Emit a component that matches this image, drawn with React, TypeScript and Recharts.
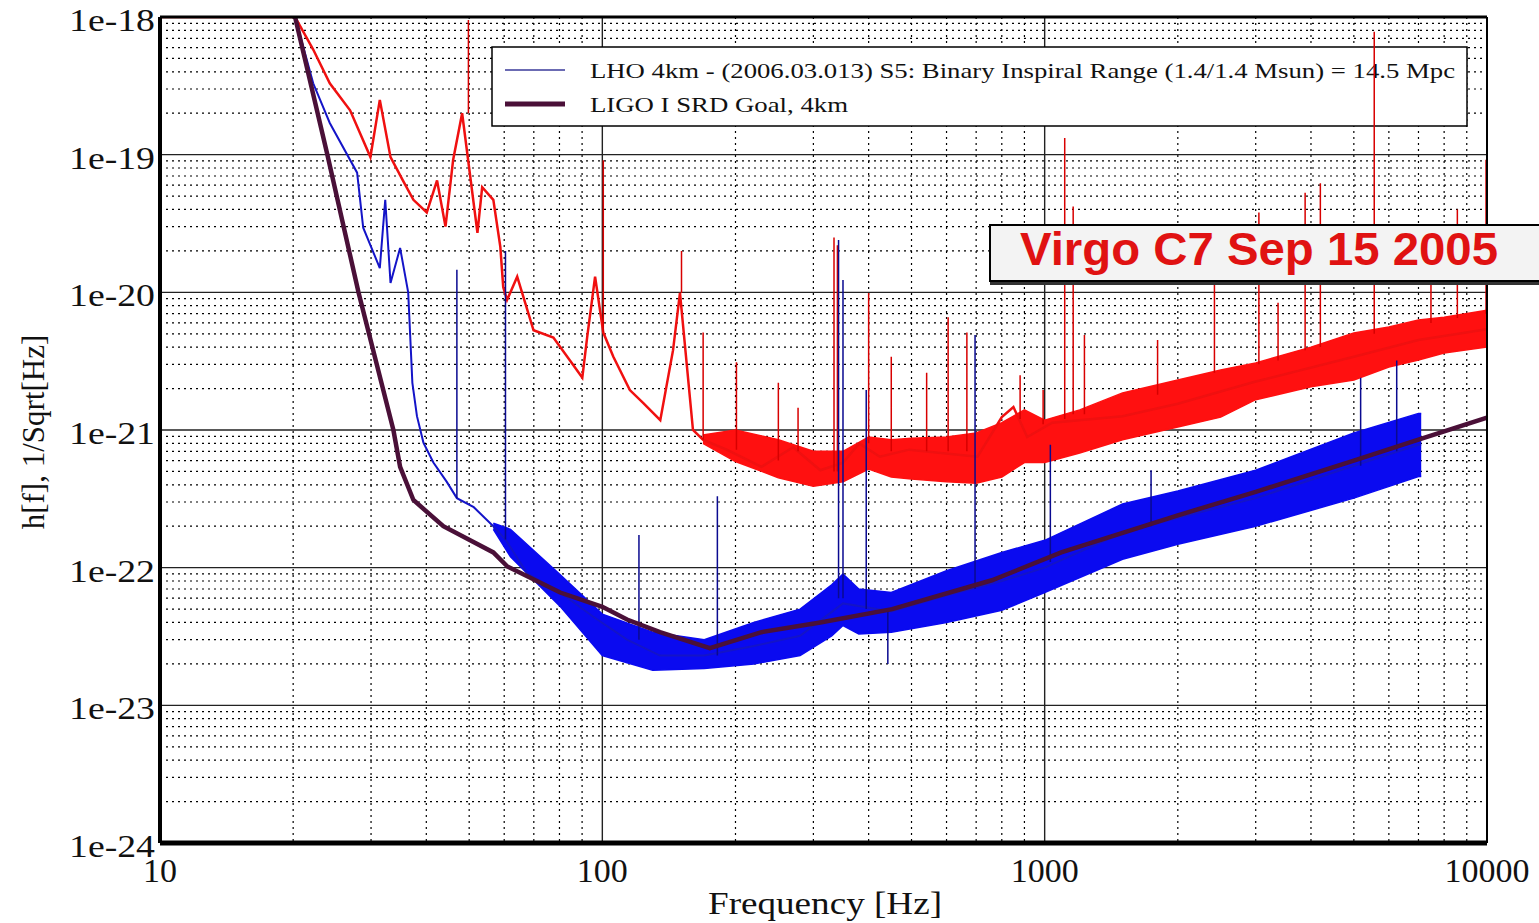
import { ComposedChart, Line, Area, XAxis, YAxis, ReferenceLine, CartesianGrid } from 'recharts';

const xTicks = [10, 100, 1000, 10000];
const xTickLabels = ['10', '100', '1000', '10000'];
const yTicks = [1e-24, 1e-23, 1e-22, 1e-21, 1e-20, 1e-19, 1e-18];
const yTickLabels = ['1e-24', '1e-23', '1e-22', '1e-21', '1e-20', '1e-19', '1e-18'];

// LIGO I SRD goal (smooth curve)
const srdFreq = [20.2, 23.9, 28.1, 33.7, 34.9, 37.4, 43.7, 56.7, 61, 80.3, 100, 113.7, 135, 175, 229, 311, 452, 760, 1090, 2000, 3000, 5000, 7000, 10000];
const srdH = [1e-18, 1e-19, 1e-20, 1e-21, 5.4e-22, 3.1e-22, 2.0e-22, 1.29e-22, 1.02e-22, 6.6e-23, 5.2e-23, 4.2e-23, 3.4e-23, 2.6e-23, 3.4e-23, 4.0e-23, 5.0e-23, 8.1e-23, 1.29e-22, 2.4e-22, 3.55e-22, 6.0e-22, 8.5e-22, 1.23e-21];

// Virgo C7 trace, noise band and lines
const redFreq = [10, 20.2, 22.2, 24.2, 26.9, 29.9, 31.4, 33.2, 35.4, 37.4, 40.1, 42.3, 44.2, 46.0, 48.2, 52.2, 53.5, 56.7, 58.8, 59.7, 60.9, 64.2, 69.9, 77.5, 84.5, 90.1, 92.4, 96.3, 100.5, 105.9, 115.4, 123.8, 135.2, 144.5, 149.8, 160.3, 168.8, 191, 229, 270, 311, 350, 381, 424, 494, 705, 800, 850, 913, 1040, 1500, 2000, 3000, 5000, 7000, 10000];
const redH = [1e-18, 1e-18, 5.8e-19, 3.3e-19, 2.1e-19, 9.6e-20, 2.5e-19, 9.6e-20, 6.5e-20, 4.7e-20, 3.8e-20, 6.5e-20, 3.0e-20, 9.2e-20, 2.0e-19, 2.7e-20, 5.8e-20, 4.7e-20, 2.14e-20, 1.09e-20, 8.8e-21, 1.3e-20, 5.3e-21, 4.7e-21, 3.2e-21, 2.4e-21, 4.7e-21, 1.3e-20, 5.1e-21, 3.4e-21, 1.95e-21, 1.57e-21, 1.18e-21, 3.8e-21, 9.9e-21, 1.0e-21, 8.5e-22, 7.2e-22, 5.4e-22, 7.5e-22, 5.1e-22, 5.8e-22, 8.0e-22, 6.4e-22, 7.2e-22, 6.4e-22, 1.24e-21, 1.47e-21, 8.9e-22, 1.13e-21, 1.26e-21, 1.55e-21, 2.25e-21, 3.4e-21, 4.5e-21, 5.4e-21];
const redBandFreq = [168.8, 200, 250, 300, 350, 400, 450, 500, 600, 700, 800, 900, 1000, 1200, 1500, 2000, 2500, 3000, 4000, 5000, 6000, 7000, 8000, 10000];
const redBandLo = [8.0e-22, 5.9e-22, 4.5e-22, 3.9e-22, 4.2e-22, 5.2e-22, 4.55e-22, 4.4e-22, 4.2e-22, 4.1e-22, 4.55e-22, 5.8e-22, 5.8e-22, 6.8e-22, 8.5e-22, 1.05e-21, 1.24e-21, 1.66e-21, 2.06e-21, 2.31e-21, 2.87e-21, 3.23e-21, 3.63e-21, 4.0e-21];
const redBandHi = [9.2e-22, 1.0e-21, 8.5e-22, 7.0e-22, 7.0e-22, 8.9e-22, 8.5e-22, 8.7e-22, 8.9e-22, 9.5e-22, 1.13e-21, 1.4e-21, 1.18e-21, 1.4e-21, 1.86e-21, 2.31e-21, 2.73e-21, 3.07e-21, 4.0e-21, 5.07e-21, 5.6e-21, 6.3e-21, 6.6e-21, 7.4e-21];
// [frequency, base, peak]
const redLines = [
  [49.8, 2.0e-19, 9.5e-19], [100.5, 5.1e-21, 9.1e-20], [151, 9.9e-21, 2.0e-20], [169, 8.5e-22, 5.1e-21],
  [201, 7.2e-22, 3.1e-21], [250, 6e-22, 2.2e-21], [277, 7e-22, 1.45e-21], [334, 5e-22, 2.5e-20],
  [340, 5e-22, 2.2e-20], [400, 8e-22, 9.9e-21], [450, 7e-22, 3.4e-21], [541, 7e-22, 2.6e-21],
  [605, 7e-22, 6.6e-21], [667, 7e-22, 5.1e-21], [880, 1.2e-21, 2.5e-21], [992, 1.1e-21, 1.95e-21],
  [1110, 1.2e-21, 1.32e-19], [1160, 1.3e-21, 4.2e-20], [1230, 1.3e-21, 4.9e-21], [1800, 1.8e-21, 4.5e-21],
  [2420, 2.6e-21, 1.19e-20], [3050, 3e-21, 3.8e-20], [3370, 3.2e-21, 8.4e-21], [3880, 3.8e-21, 5.3e-20],
  [4200, 4e-21, 6.2e-20], [5560, 5e-21, 7.8e-19], [7470, 6e-21, 1.19e-20], [8570, 6.5e-21, 4.0e-20],
  [9950, 7e-21, 9.2e-20],
];

// LHO 4km S5 trace, noise band and lines
const blueFreq = [20.2, 22.2, 24.2, 27.9, 28.8, 31.4, 32.3, 33.2, 34.9, 36.4, 37.2, 38.1, 39.4, 41.5, 44.5, 46.9, 51.2, 56.7, 60.4, 67.6, 80.3, 95.4, 113.7, 135, 170, 220, 280, 350, 450, 600, 800, 1000, 1500, 2000, 3000, 5000, 7000, 7100];
const blueH = [1e-18, 3.3e-19, 1.7e-19, 7.4e-20, 2.95e-20, 1.5e-20, 4.7e-20, 1.17e-20, 2.1e-20, 1.0e-20, 2.2e-21, 1.26e-21, 8.1e-22, 5.8e-22, 4.2e-22, 3.2e-22, 2.75e-22, 2.0e-22, 1.6e-22, 9.1e-23, 6.6e-23, 4.4e-23, 3.0e-23, 2.3e-23, 2.3e-23, 2.7e-23, 3.2e-23, 5.5e-23, 4.8e-23, 6.3e-23, 8.0e-23, 1.0e-22, 1.8e-22, 2.3e-22, 3.2e-22, 5.5e-22, 7.8e-22, 7.8e-22];
const blueBandFreq = [56.7, 62, 80, 100, 130, 170, 220, 280, 330, 350, 380, 450, 600, 800, 1000, 1500, 2000, 3000, 5000, 7000, 7100];
const blueBandLo = [1.9e-22, 1.2e-22, 5.3e-23, 2.3e-23, 1.8e-23, 1.85e-23, 2.0e-23, 2.3e-23, 3.2e-23, 3.8e-23, 3.3e-23, 3.4e-23, 4.0e-23, 4.9e-23, 6.6e-23, 1.15e-22, 1.48e-22, 2.0e-22, 3.2e-22, 4.6e-22, 4.6e-22];
const blueBandHi = [2.1e-22, 1.9e-22, 9.0e-23, 4.6e-23, 3.4e-23, 3.0e-23, 4.0e-23, 5.0e-23, 7.5e-23, 9.0e-23, 7.0e-23, 6.6e-23, 9.5e-23, 1.29e-22, 1.58e-22, 2.9e-22, 3.6e-22, 5.1e-22, 9.5e-22, 1.32e-21, 1.32e-21];
const blueLines = [
  [46.9, 3.2e-22, 1.46e-20], [60.4, 1.6e-22, 2.0e-20], [121, 3.0e-23, 1.73e-22], [182, 2.3e-23, 3.3e-22],
  [342, 6e-23, 2.4e-20], [350, 6e-23, 1.23e-20], [395, 5e-23, 1.95e-21], [442, 5e-23, 2.0e-23],
  [696, 7e-23, 4.9e-21], [1030, 1.1e-22, 7.8e-22], [1740, 2e-22, 5.1e-22], [5180, 5.5e-22, 2.4e-21],
  [6250, 7e-22, 3.2e-21],
];

const trace = (fs: number[], hs: number[]) => fs.map((f, i) => ({ f, h: hs[i] }));
const band = (fs: number[], lo: number[], hi: number[]) => fs.map((f, i) => ({ f, band: [lo[i], hi[i]] }));
const spikes = (rows: number[][]) =>
  rows.flatMap(([f, base, peak]) => [{ f, h: base }, { f, h: peak }, { f, h: null }]);

const srdData = trace(srdFreq, srdH);
const redData = trace(redFreq, redH);
const redBandData = band(redBandFreq, redBandLo, redBandHi);
const redSpikeData = spikes(redLines);
const blueData = trace(blueFreq, blueH);
const blueBandData = band(blueBandFreq, blueBandLo, blueBandHi);
const blueSpikeData = spikes(blueLines);

const xMinor = [10, 100, 1000].flatMap(d => [2, 3, 4, 5, 6, 7, 8, 9].map(k => k * d));
const yMinor = yTicks.slice(0, -1).flatMap(d => [2, 3, 4, 5, 6, 7, 8, 9].map(k => k * d));
const xMajor = xTicks.slice(1, -1);
const yMajor = yTicks.slice(1, -1);

const serif = '"Liberation Serif", "Times New Roman", serif';

function XTick({ x, y, index }: any) {
  return (
    <text x={x} y={y + 31} textAnchor="middle" fontFamily={serif} fontSize={34} fill="#111">
      {xTickLabels[index]}
    </text>
  );
}

function YTick({ x, y, index }: any) {
  return (
    <text x={x + 3} y={y + 14} textAnchor="end" fontFamily={serif} fontSize={31} fill="#111"
      textLength={86} lengthAdjust="spacingAndGlyphs">
      {yTickLabels[index]}
    </text>
  );
}

function LegendBox() {
  return (
    <g>
      <rect x={492} y={47} width={975} height={79} fill="#fff" stroke="#000" strokeWidth={1.5} />
      <line x1={505} x2={565} y1={70} y2={70} stroke="#3a3a9a" strokeWidth={1.5} />
      <text x={590} y={78} fontFamily={serif} fontSize={22} fill="#111" textLength={865} lengthAdjust="spacingAndGlyphs">
        LHO 4km - (2006.03.013) S5: Binary Inspiral Range (1.4/1.4 Msun) = 14.5 Mpc
      </text>
      <line x1={505} x2={565} y1={104} y2={104} stroke="#4a1038" strokeWidth={5} />
      <text x={590} y={112} fontFamily={serif} fontSize={22} fill="#111" textLength={258} lengthAdjust="spacingAndGlyphs">
        LIGO I SRD Goal, 4km
      </text>
    </g>
  );
}

export default function App() {
  return (
    <div style={{ position: 'relative', width: 1539, height: 923, background: '#fff' }}>
      <style>{`body{margin:0}`}</style>
      <ComposedChart width={1539} height={923} margin={{ top: 17, right: 52, bottom: 0, left: 0 }}>
        <XAxis type="number" dataKey="f" scale="log" domain={[10, 10000]} ticks={xTicks} allowDataOverflow interval={0}
          height={80} tickLine={false} axisLine={{ stroke: '#000', strokeWidth: 5 }} tick={<XTick />} />
        <YAxis type="number" scale="log" domain={[1e-24, 1e-18]} ticks={yTicks} allowDataOverflow interval={0}
          width={160} tickLine={false} axisLine={{ stroke: '#000', strokeWidth: 4 }} tick={<YTick />} />

        <CartesianGrid horizontal={false} verticalValues={xMinor} stroke="#000" strokeWidth={1.2} strokeDasharray="2 4" />
        <CartesianGrid vertical={false} horizontalValues={yMinor} stroke="#000" strokeWidth={1.2} strokeDasharray="2 4" />
        <CartesianGrid horizontal={false} verticalValues={xMajor} stroke="#222" strokeWidth={1.4} />
        <CartesianGrid vertical={false} horizontalValues={yMajor} stroke="#222" strokeWidth={1.4} />

        <LegendBox />

        <Area data={redBandData} dataKey="band" type="linear" stroke="#ff1010" strokeWidth={1.5} fill="#ff1010" fillOpacity={1} isAnimationActive={false} />
        <Line data={redData} dataKey="h" type="linear" stroke="#f01010" strokeWidth={2.5} dot={false} isAnimationActive={false} />
        <Line data={redSpikeData} dataKey="h" type="linear" stroke="#d80000" strokeWidth={1.5} dot={false} connectNulls={false} isAnimationActive={false} />

        <Area data={blueBandData} dataKey="band" type="linear" stroke="#0a0af0" strokeWidth={1.5} fill="#0a0af0" fillOpacity={1} isAnimationActive={false} />
        <Line data={blueData} dataKey="h" type="linear" stroke="#1414c8" strokeWidth={2} dot={false} isAnimationActive={false} />
        <Line data={blueSpikeData} dataKey="h" type="linear" stroke="#0a0a90" strokeWidth={1.5} dot={false} connectNulls={false} isAnimationActive={false} />

        <Line data={srdData} dataKey="h" type="linear" stroke="#4a1038" strokeWidth={4.5} dot={false} isAnimationActive={false} />

        <ReferenceLine y={1e-18} stroke="#000" strokeWidth={3} />
        <ReferenceLine x={10000} stroke="#000" strokeWidth={2} />
      </ComposedChart>

      <svg width={1539} height={923} style={{ position: 'absolute', left: 0, top: 0, pointerEvents: 'none' }}>
        <text transform="translate(44 432) rotate(-90)" textAnchor="middle" fontFamily={serif} fontSize={31} fill="#111">
          h[f], 1/Sqrt[Hz]
        </text>
        <text x={825} y={914} textAnchor="middle" fontFamily={serif} fontSize={32} fill="#111"
          textLength={234} lengthAdjust="spacingAndGlyphs">
          Frequency [Hz]
        </text>
        <rect x={990} y={229} width={560} height={56} fill="#333" />
        <rect x={990} y={225} width={560} height={56} fill="#f3f3f3" stroke="#000" strokeWidth={2} />
        <text x={1020} y={265} fontFamily='"Liberation Sans", Arial, sans-serif' fontWeight="bold" fontSize={46}
          fill="#e01212" textLength={478} lengthAdjust="spacingAndGlyphs">
          Virgo C7 Sep 15 2005
        </text>
      </svg>
    </div>
  );
}
